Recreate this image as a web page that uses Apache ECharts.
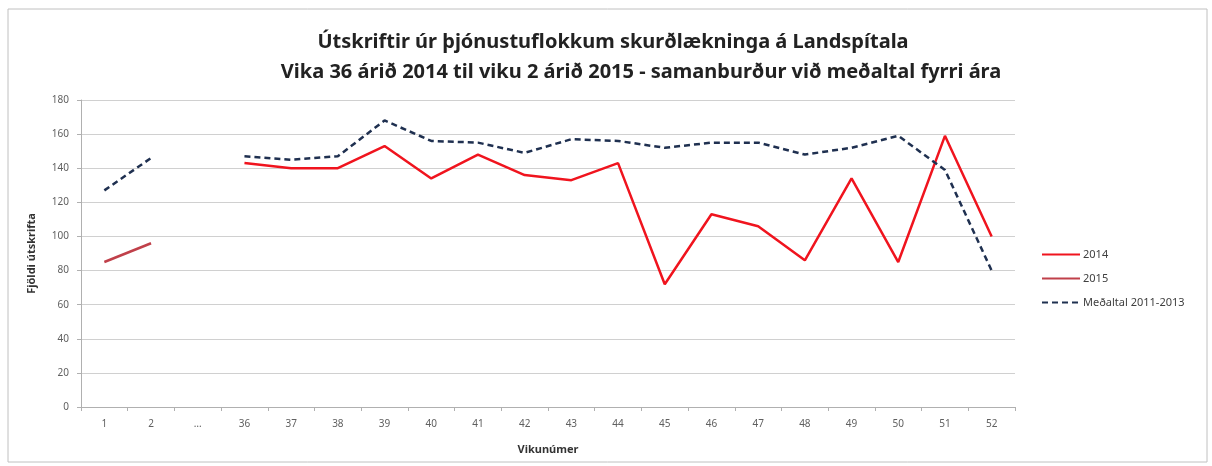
<!DOCTYPE html>
<html>
<head>
<meta charset="utf-8">
<script src="https://cdn.jsdelivr.net/npm/echarts@6/dist/echarts.min.js"></script>
<style>
  html, body { margin: 0; padding: 0; background: #fff; }
  #chart { width: 1212px; height: 466px; }
</style>
</head>
<body>
<div id="chart"></div>
<script>
// vikur
var weeks = ['1', '2', '…', '36', '37', '38', '39', '40', '41', '42', '43', '44', '45', '46', '47', '48', '49', '50', '51', '52'];
var y2014 = [null, null, null, 143, 140, 140, 153, 134, 148, 136, 133, 143, 72, 113, 106, 86, 134, 85, 159, 100];
var y2015 = [85, 96, null, null, null, null, null, null, null, null, null, null, null, null, null, null, null, null, null, null];
var avg = [127, 146, null, 147, 145, 147, 168, 156, 155, 149, 157, 156, 152, 155, 155, 148, 152, 159, 139, 80];

var chart = echarts.init(document.getElementById('chart'));
var option = {
    animation: false,
    textStyle: { fontFamily: 'Noto Sans' },
    title: [{
        text: 'Útskriftir úr þjónustuflokkum skurðlækninga á Landspítala',
        left: 608,
        textAlign: 'center',
        top: 27,
        textStyle: { fontSize: 20, fontWeight: 'bold', color: '#222' }
    }, {
        text: 'Vika 36 árið 2014 til viku 2 árið 2015 - samanburður við meðaltal fyrri ára',
        left: 636,
        textAlign: 'center',
        top: 57,
        textStyle: { fontSize: 20, fontWeight: 'bold', color: '#222' }
    }],
    graphic: [{
        type: 'rect',
        shape: { x: 8, y: 9, width: 1199, height: 453 },
        style: { fill: 'none', stroke: '#c0c0c0', lineWidth: 1 }
    }],
    legend: {
        orient: 'vertical',
        left: 1036,
        top: 244,
        itemWidth: 38,
        itemHeight: 12,
        itemGap: 13,
        itemStyle: { opacity: 0 },
        textStyle: { fontSize: 11, color: '#404040', padding: [0, 0, 0, -2] },
        data: ['2014', '2015', 'Meðaltal 2011-2013']
    },
    grid: { left: 81, right: 197, top: 100, bottom: 59 },
    xAxis: {
        type: 'category',
        data: weeks,
        name: 'Vikunúmer',
        nameLocation: 'middle',
        nameGap: 37,
        nameTextStyle: { fontSize: 11, fontWeight: 'bold', color: '#333' },
        axisLine: { lineStyle: { color: '#b0b0b0' } },
        axisTick: { show: true, length: 4, lineStyle: { color: '#b0b0b0' } },
        axisLabel: { fontSize: 10, color: '#606060', margin: 12 }
    },
    yAxis: {
        type: 'value',
        min: 0,
        max: 180,
        interval: 20,
        name: 'Fjöldi útskrifta',
        nameLocation: 'middle',
        nameRotate: 90,
        nameGap: 44,
        nameTextStyle: { fontSize: 11, fontWeight: 'bold', color: '#333' },
        axisLine: { show: true, lineStyle: { color: '#b0b0b0' } },
        axisTick: { show: true, length: 4, lineStyle: { color: '#b0b0b0' } },
        axisLabel: { fontSize: 10, color: '#606060', margin: 12 },
        splitLine: { lineStyle: { color: '#d0d0d0' } }
    },
    series: [{
        name: '2014',
        type: 'line',
        data: y2014,
        symbol: 'none',
        color: '#f0141e',
        lineStyle: { width: 2.5, color: '#f0141e' }
    }, {
        name: '2015',
        type: 'line',
        data: y2015,
        symbol: 'none',
        color: '#c0404a',
        lineStyle: { width: 2.5, color: '#c0404a' }
    }, {
        name: 'Meðaltal 2011-2013',
        type: 'line',
        data: avg,
        symbol: 'none',
        color: '#1f3050',
        lineStyle: { width: 2.5, color: '#1f3050', type: [6, 4] }
    }]
};
chart.setOption(option);
</script>
</body>
</html>
